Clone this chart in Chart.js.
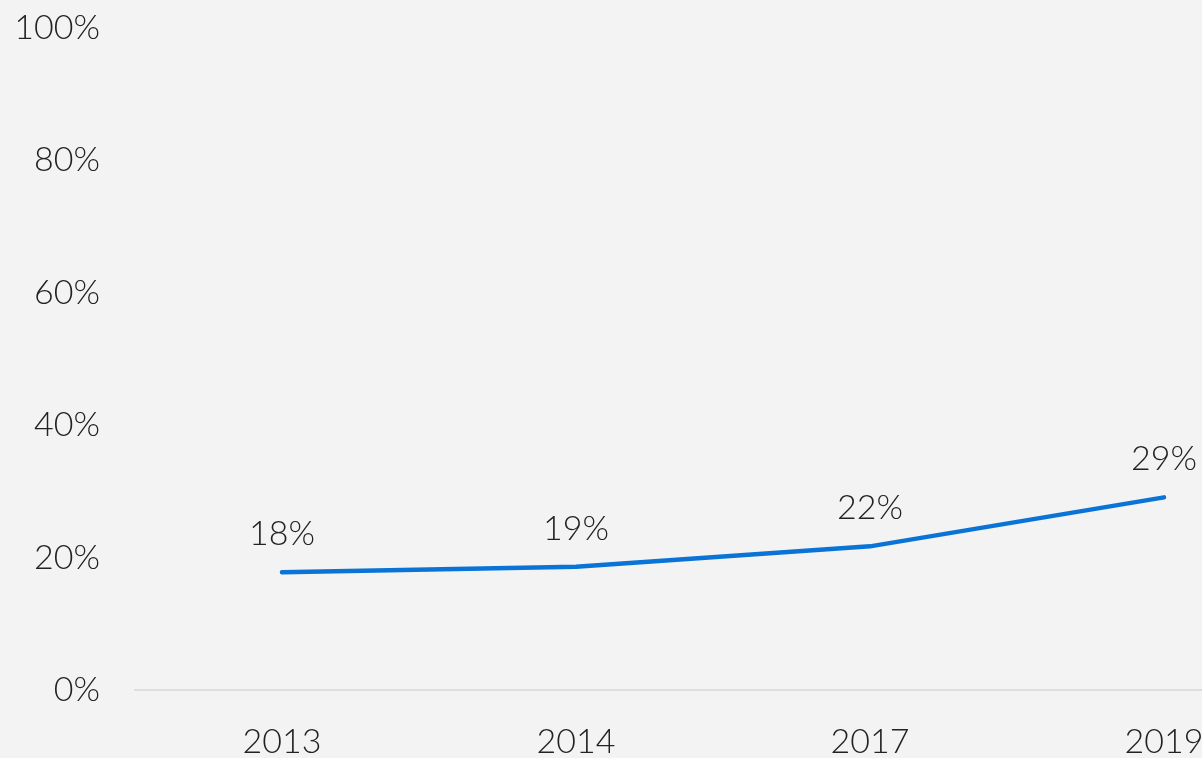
<!DOCTYPE html>
<html>
<head>
<meta charset="utf-8">
<script src="https://cdn.jsdelivr.net/npm/chart.js@4"></script>
<style>
  html, body { margin: 0; padding: 0; background: #f3f3f3; overflow: hidden; }
  #wrap { width: 1320px; height: 758px; }
</style>
</head>
<body>
<div id="wrap"><canvas id="chart" width="1320" height="758"></canvas></div>
<script>
const years = ['2013', '2014', '2017', '2019'];
const shares = [17.8, 18.6, 21.7, 29.1];
const shareLabels = ['18%', '19%', '22%', '29%'];
const yTicks = [0, 20, 40, 60, 80, 100];

const FONT = 'Lato, "Open Sans", sans-serif';

// labels above each point
const pointLabels = {
  id: 'pointLabels',
  afterDatasetsDraw(chart) {
    const ctx = chart.ctx;
    const meta = chart.getDatasetMeta(0);
    ctx.save();
    ctx.font = '300 34px ' + FONT;
    ctx.fillStyle = '#222';
    ctx.textAlign = 'center';
    ctx.textBaseline = 'middle';
    meta.data.forEach((pt, i) => {
      ctx.fillText(shareLabels[i], pt.x, pt.y - 38);
    });
    ctx.restore();
  }
};

new Chart(document.getElementById('chart'), {
  type: 'line',
  data: {
    labels: years,
    datasets: [{
      data: shares,
      borderColor: '#0a74d6',
      borderWidth: 4.5,
      borderCapStyle: 'round',
      pointRadius: 0,
      tension: 0,
      fill: false
    }]
  },
  options: {
    responsive: false,
    animation: false,
    layout: { padding: { top: 28, right: 9, left: 0, bottom: 0 } },
    plugins: { legend: { display: false }, tooltip: { enabled: false } },
    scales: {
      x: {
        offset: true,
        grid: { display: false, drawTicks: false },
        border: { display: true, color: '#dedede', width: 2 },
        ticks: { color: '#222', font: { family: FONT, size: 34, weight: 300 }, padding: 32 },
        afterFit(scale) { scale.height = 68; scale.paddingLeft = 0; scale.paddingRight = 0; }
      },
      y: {
        min: 0,
        max: 100,
        afterBuildTicks(scale) { scale.ticks = yTicks.map(v => ({ value: v })); },
        grid: { display: false, drawTicks: false },
        border: { display: false },
        ticks: {
          color: '#222',
          font: { family: FONT, size: 34, weight: 300 },
          padding: 35,
          callback: v => v + '%'
        },
        afterFit(scale) { scale.width = 135; scale.paddingTop = 0; scale.paddingBottom = 0; }
      }
    }
  },
  plugins: [pointLabels]
});
</script>
</body>
</html>
